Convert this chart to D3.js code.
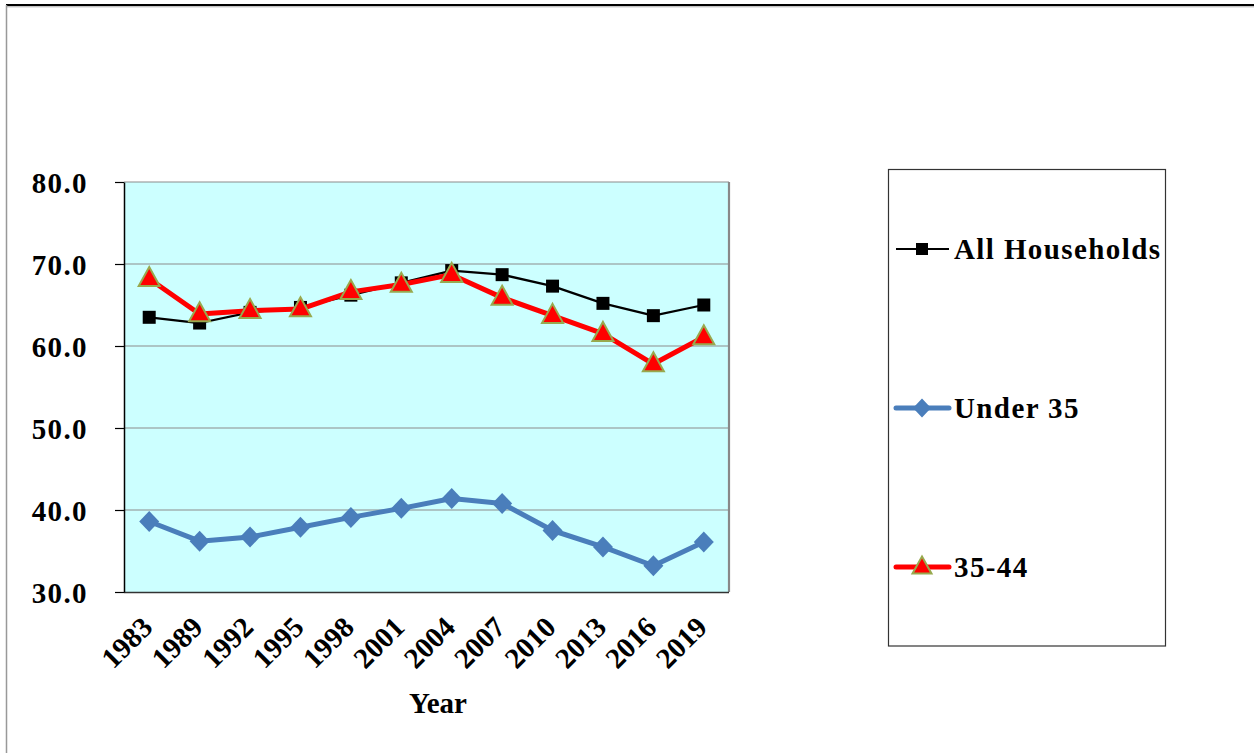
<!DOCTYPE html>
<html>
<head>
<meta charset="utf-8">
<script src="https://cdn.jsdelivr.net/npm/d3@7"></script>
<style>
  html, body { margin: 0; padding: 0; background: #fff; }
  svg { display: block; }
  text { font-family: "Liberation Serif", "Times New Roman", serif; font-weight: bold; fill: #000; }
</style>
</head>
<body>
<svg id="chart" width="1254" height="753"></svg>
<script>
// Survey years on the horizontal axis
const years = ["1983", "1989", "1992", "1995", "1998", "2001", "2004", "2007", "2010", "2013", "2016", "2019"];

// Rates (%) for each household group
const allHouseholds = [63.5, 62.8, 64.1, 64.7, 66.2, 67.7, 69.2, 68.7, 67.3, 65.2, 63.7, 65.0];
const under35       = [38.6, 36.2, 36.7, 37.9, 39.1, 40.2, 41.4, 40.8, 37.5, 35.5, 33.2, 36.1];
const age35to44     = [68.2, 63.9, 64.3, 64.5, 66.6, 67.5, 68.7, 65.9, 63.7, 61.5, 57.8, 61.1];

const yTicks = [30, 40, 50, 60, 70, 80];
const seriesNames = ["All Households", "Under 35", "35-44"];

const svg = d3.select("#chart");

// Outer frame
svg.append("line").attr("x1", 6).attr("x2", 1254).attr("y1", 5).attr("y2", 5)
  .attr("stroke", "#000").attr("stroke-width", 2);
svg.append("line").attr("x1", 6).attr("x2", 1254).attr("y1", 6.8).attr("y2", 6.8)
  .attr("stroke", "#aaa").attr("stroke-width", 1);
svg.append("line").attr("x1", 6.5).attr("x2", 6.5).attr("y1", 5).attr("y2", 753)
  .attr("stroke", "#999").attr("stroke-width", 1.5);

const plot = { left: 124, top: 182, right: 729, bottom: 592 };

const x = d3.scaleBand().domain(years).range([plot.left, plot.right]).padding(0);
const xc = d => x(d) + x.bandwidth() / 2;
const y = d3.scaleLinear().domain([30, 80]).range([plot.bottom, plot.top]);

// Plot background
svg.append("rect")
  .attr("x", plot.left).attr("y", plot.top)
  .attr("width", plot.right - plot.left).attr("height", plot.bottom - plot.top)
  .attr("fill", "#CCFFFF");

// Horizontal gridlines
svg.append("g").selectAll("line")
  .data(yTicks.filter(v => v > 30))
  .join("line")
  .attr("x1", plot.left).attr("x2", plot.right)
  .attr("y1", d => y(d)).attr("y2", d => y(d))
  .attr("stroke", "#8c8c8c").attr("stroke-width", 1.2);

// Right and bottom plot borders
svg.append("line").attr("x1", plot.right).attr("x2", plot.right)
  .attr("y1", plot.top).attr("y2", plot.bottom)
  .attr("stroke", "#888").attr("stroke-width", 2.2);
svg.append("line").attr("x1", plot.left).attr("x2", plot.right)
  .attr("y1", plot.bottom + 0.5).attr("y2", plot.bottom + 0.5)
  .attr("stroke", "#333").attr("stroke-width", 1.5);

// Y axis
const yAxis = d3.axisLeft(y).tickValues(yTicks).tickSize(9).tickSizeOuter(0)
  .tickFormat(d3.format(".1f"));
const gy = svg.append("g").attr("transform", `translate(${plot.left},0)`).call(yAxis);
gy.select(".domain").attr("stroke", "#000").attr("stroke-width", 1.5);
gy.selectAll(".tick line").attr("stroke", "#000").attr("stroke-width", 1.2);
gy.selectAll(".tick text")
  .attr("x", -36).attr("dy", "0.36em")
  .style("font-family", "'Liberation Serif', serif")
  .style("font-weight", "bold")
  .style("font-size", "29px")
  .style("letter-spacing", "1.4px")
  .attr("fill", "#000");

// X axis labels, rotated
svg.append("g").selectAll("text")
  .data(years)
  .join("text")
  .attr("text-anchor", "end")
  .attr("transform", d => `translate(${xc(d) + 5},629) rotate(-45)`)
  .style("font-size", "29px")
  .text(d => d);

svg.append("text")
  .attr("x", 438).attr("y", 713)
  .attr("text-anchor", "middle")
  .style("font-size", "29px")
  .text("Year");

// Marker shapes
const squarePath = s => `M${-s/2},${-s/2}H${s/2}V${s/2}H${-s/2}Z`;
const diamondPath = (w, h) => `M0,${-h/2}L${w/2},0L0,${h/2}L${-w/2},0Z`;
const trianglePath = (w, h) => `M0,${-h*0.62}L${w/2},${h*0.38}L${-w/2},${h*0.38}Z`;

const series = [
  { name: seriesNames[0], values: allHouseholds, color: "#000", width: 2.2,
    marker: () => squarePath(13), mFill: "#000", mStroke: "none", mStrokeW: 0,
    legendMarker: () => squarePath(12) },
  { name: seriesNames[1], values: under35, color: "#4A7EBB", width: 5,
    marker: () => diamondPath(20, 21), mFill: "#4A7EBB", mStroke: "none", mStrokeW: 0,
    legendMarker: () => diamondPath(18, 19) },
  { name: seriesNames[2], values: age35to44, color: "#FF0000", width: 5,
    marker: () => trianglePath(21, 19), mFill: "#FF0000", mStroke: "#98A94E", mStrokeW: 2,
    legendMarker: () => trianglePath(19, 17) }
];

const line = d3.line().x((d, i) => xc(years[i])).y(d => y(d));

// Draw in order: under 35, all households, 35-44 on top
const drawOrder = [series[1], series[0], series[2]];
drawOrder.forEach(s => {
  const g = svg.append("g");
  g.append("path")
    .attr("d", line(s.values))
    .attr("fill", "none")
    .attr("stroke", s.color)
    .attr("stroke-width", s.width)
    .attr("stroke-linejoin", "round");
  g.selectAll("path.m")
    .data(s.values)
    .join("path")
    .attr("class", "m")
    .attr("d", s.marker())
    .attr("transform", (d, i) => `translate(${xc(years[i])},${y(d)})`)
    .attr("fill", s.mFill)
    .attr("stroke", s.mStroke)
    .attr("stroke-width", s.mStrokeW);
});

// Legend
const legend = { x: 888.5, y: 169.5, w: 277, h: 476.5 };
svg.append("rect")
  .attr("x", legend.x).attr("y", legend.y)
  .attr("width", legend.w).attr("height", legend.h)
  .attr("fill", "#fff").attr("stroke", "#333").attr("stroke-width", 1.2);

const legendY = [249, 408, 567];
series.forEach((s, i) => {
  const ly = legendY[i];
  const g = svg.append("g");
  g.append("line")
    .attr("x1", 896).attr("x2", 949).attr("y1", ly).attr("y2", ly)
    .attr("stroke", s.color).attr("stroke-width", s.width)
    .attr("stroke-linecap", i === 0 ? "butt" : "round");
  g.append("path")
    .attr("d", s.legendMarker())
    .attr("transform", `translate(922,${ly})`)
    .attr("fill", s.mFill)
    .attr("stroke", s.mStroke)
    .attr("stroke-width", s.mStrokeW);
  g.append("text")
    .attr("x", 954).attr("y", ly).attr("dy", "0.36em")
    .style("font-size", "29px")
    .style("letter-spacing", "1.4px")
    .text(s.name);
});
</script>
</body>
</html>
